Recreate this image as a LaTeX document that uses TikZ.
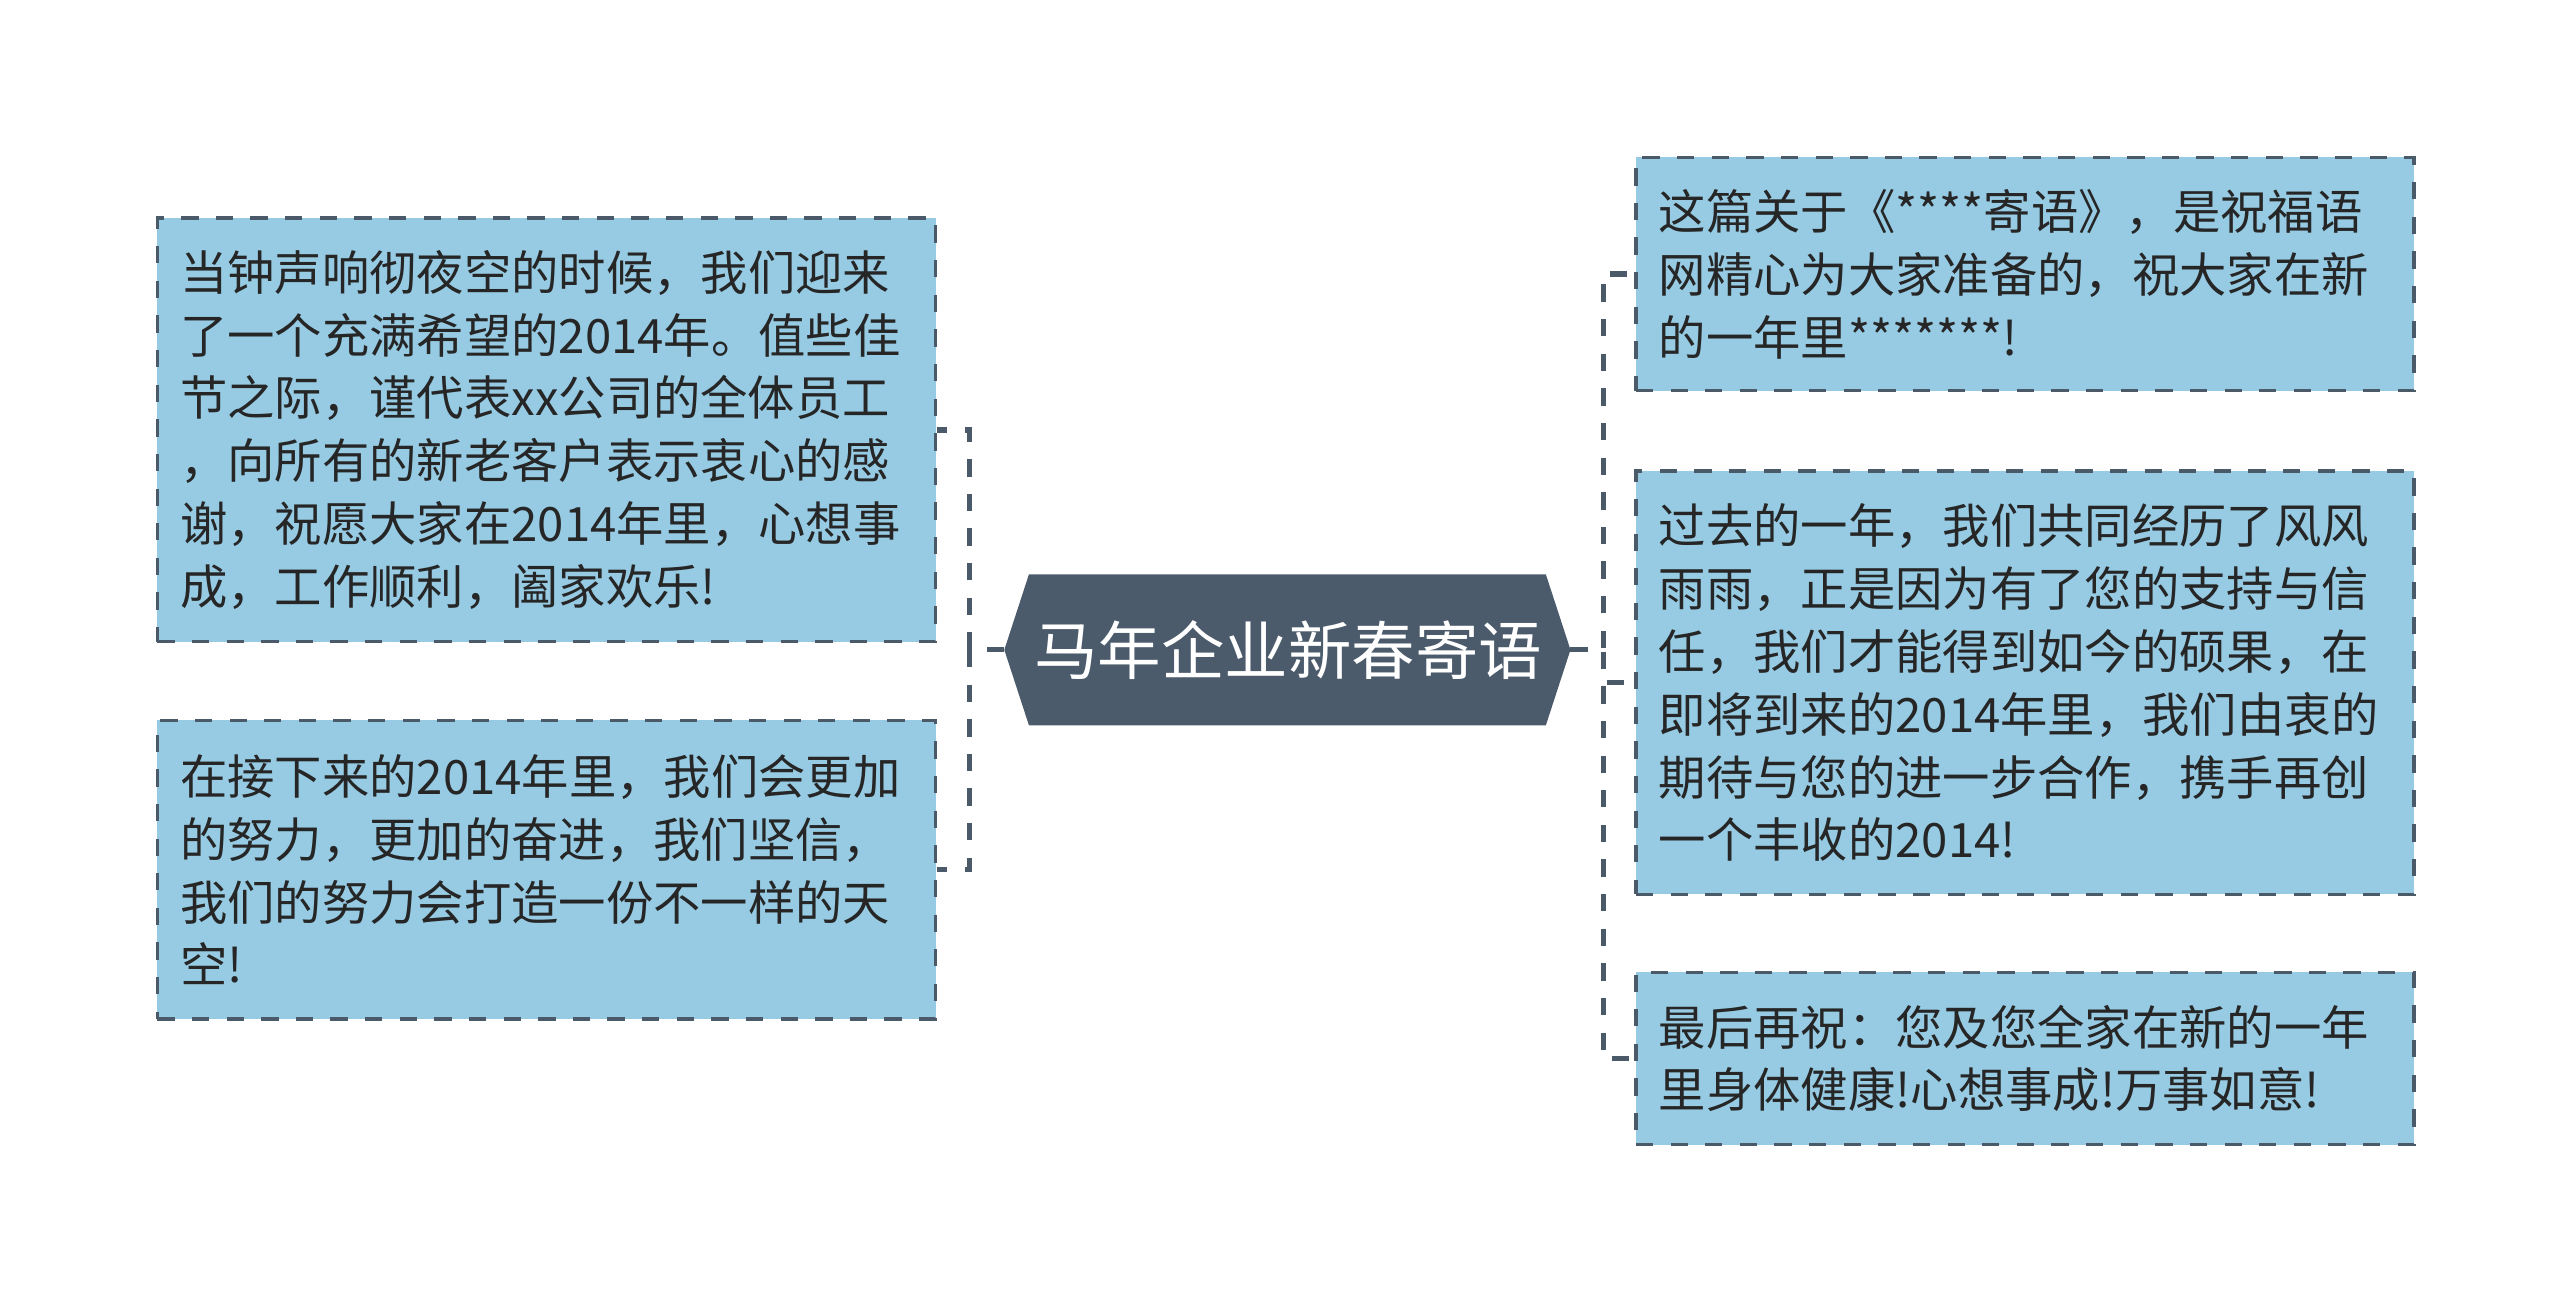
\documentclass[tikz,border=0pt]{standalone}
\usepackage{fontspec}
\setmainfont{Noto Sans CJK SC}
\usetikzlibrary{positioning}
\definecolor{boxfill}{HTML}{96CBE3}
\definecolor{edgegray}{HTML}{4B5A69}
\definecolor{topicfill}{HTML}{4B5B6B}
\tikzset{
  leaf/.style={draw=edgegray,dashed,line width=0.6pt,fill=boxfill,minimum width=4.74cm,
    text width=4.46cm,align=left,inner sep=0pt,font=\fontsize{8.2pt}{10.9pt}\selectfont,text=black!85},
  link/.style={draw=edgegray,dashed,line width=0.9pt}
}
\begin{document}
\begin{tikzpicture}[x=0.01cm,y=-0.01cm]
  \useasboundingbox[fill=white] (0,0) rectangle (1560,789);
  % central topic
  \fill[topicfill] (612,396) -- (627,350) -- (942,350) -- (957,396) -- (942,442) -- (627,442) -- cycle;
  \node[text=white,font=\fontsize{11pt}{13pt}\selectfont](topic) at (785,396){马年企业新春寄语};
  \coordinate(tL) at (612,396);
  \coordinate(tR) at (957,396);
  % left side
  \node[leaf,minimum height=2.58cm](L1) at (333,262){当钟声响彻夜空的时候，我们迎来\\了一个充满希望的2014年。值些佳\\节之际，谨代表xx公司的全体员工\\，向所有的新老客户表示衷心的感\\谢，祝愿大家在2014年里，心想事\\成，工作顺利，阖家欢乐!};
  \node[leaf,minimum height=1.82cm](L2) at (333,530){在接下来的2014年里，我们会更加\\的努力，更加的奋进，我们坚信，\\我们的努力会打造一份不一样的天\\空!};
  % right side
  \node[leaf,minimum height=1.42cm](R1) at (1234,167){这篇关于《****寄语》，是祝福语\\网精心为大家准备的，祝大家在新\\的一年里*******!};
  \node[leaf,minimum height=2.58cm](R2) at (1234,416){过去的一年，我们共同经历了风风\\雨雨，正是因为有了您的支持与信\\任，我们才能得到如今的硕果，在\\即将到来的2014年里，我们由衷的\\期待与您的进一步合作，携手再创\\一个丰收的2014!};
  \node[leaf,minimum height=1.05cm](R3) at (1234,645){最后再祝：您及您全家在新的一年\\里身体健康!心想事成!万事如意!};
  % connectors
  \draw[link] (tL) -- ++(-21,0) |- (L1.east);
  \draw[link] (tL) -- ++(-21,0) |- (L2.east);
  \draw[link] (tR) -- ++(20,0) |- (R1.west);
  \draw[link] (tR) -- ++(20,0) |- (R2.west);
  \draw[link] (tR) -- ++(20,0) |- (R3.west);
\end{tikzpicture}
\end{document}
